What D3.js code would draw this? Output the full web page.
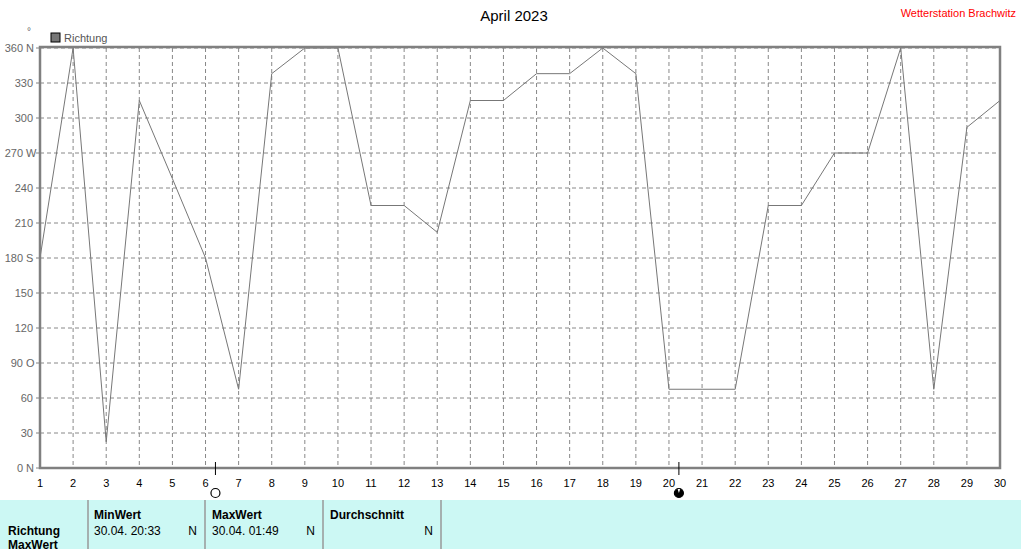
<!DOCTYPE html>
<html><head><meta charset="utf-8">
<script src="https://cdn.jsdelivr.net/npm/d3@7"></script>
<style>body{margin:0;background:#fff}svg{display:block;font-family:"Liberation Sans",Arial,sans-serif}</style>
</head><body><svg id="c" width="1021" height="549"></svg>
<script>
const days = d3.range(1, 31);
const richtung = [180,360,22.5,315,248,180,67.5,338,360,360,225,225,202,315,315,338,338,360,338,67.5,67.5,67.5,225,225,270,270,360,67.5,292,315];
const yTicks = d3.range(0, 361, 30);
const compass = {0:"N",90:"O",180:"S",270:"W",360:"N"};
const moons = [{day:6.3, full:true},{day:20.3, full:false}];

const svg = d3.select("#c");
const x = d3.scaleLinear().domain([1,30]).range([40,1000]);
const y = d3.scaleLinear().domain([0,360]).range([468,48]);

svg.append("text").attr("x",514).attr("y",21).attr("text-anchor","middle").attr("font-size",15).text("April 2023");
svg.append("text").attr("x",1016).attr("y",17).attr("text-anchor","end").attr("font-size",11).attr("fill","#f00").text("Wetterstation Brachwitz");
svg.append("text").attr("x",27).attr("y",35).attr("font-size",10).attr("fill","#666").text("°");
svg.append("rect").attr("x",51).attr("y",33).attr("width",9).attr("height",9).attr("fill","#777").attr("stroke","#000");
svg.append("text").attr("x",64).attr("y",42).attr("font-size",11).attr("fill","#555").text("Richtung");

const g = svg.append("g");
g.selectAll(".vg").data(days.slice(1)).join("line")
  .attr("x1",d=>x(d)).attr("x2",d=>x(d)).attr("y1",48).attr("y2",468)
  .attr("stroke","#888").attr("stroke-dasharray","4,3");
g.selectAll(".hg").data(yTicks.slice(1)).join("line")
  .attr("x1",40).attr("x2",1000).attr("y1",d=>y(d)).attr("y2",d=>y(d))
  .attr("stroke","#888").attr("stroke-dasharray","4,3");

g.append("path").datum(richtung)
  .attr("d", d3.line().x((d,i)=>x(days[i])).y(d=>y(d)))
  .attr("fill","none").attr("stroke","#777").attr("stroke-width",1);

svg.append("rect").attr("x",40).attr("y",47).attr("width",960).attr("height",421)
  .attr("fill","none").attr("stroke","#808080").attr("stroke-width",2.5);

yTicks.forEach(v=>{
  svg.append("line").attr("x1",36).attr("x2",40).attr("y1",y(v)).attr("y2",y(v)).attr("stroke","#808080");
  svg.append("text").attr("x",compass[v]!==undefined?23:33).attr("y",y(v)+4).attr("text-anchor","end")
    .attr("font-size",11).attr("fill","#666").text(v);
  if(compass[v]!==undefined) svg.append("text").attr("x",26).attr("y",y(v)+4).attr("font-size",11).attr("fill","#666").text(compass[v]);
});
days.forEach(d=>{
  svg.append("text").attr("x",x(d)).attr("y",487).attr("text-anchor","middle").attr("font-size",11).text(d);
});
moons.forEach(m=>{
  svg.append("line").attr("x1",x(m.day)).attr("x2",x(m.day)).attr("y1",462).attr("y2",475).attr("stroke","#000");
  svg.append("circle").attr("cx",x(m.day)).attr("cy",493).attr("r",4.5).attr("fill","#fff").attr("stroke","#000").attr("stroke-width",1.2);
  if(!m.full) svg.append("path").attr("d",d3.arc()({innerRadius:0,outerRadius:4.5,startAngle:Math.PI*0.1,endAngle:Math.PI*1.9}))
    .attr("transform",`translate(${x(m.day)},493)`).attr("fill","#000");
});

// table
svg.append("rect").attr("x",0).attr("y",500).attr("width",1021).attr("height",49).attr("fill","#ccf8f4");
[88,205,323,441].forEach(px=>svg.append("line").attr("x1",px).attr("x2",px).attr("y1",500).attr("y2",549).attr("stroke","#999").attr("stroke-width",1.5));
const tb = (t,px,py,bold,anchor)=>svg.append("text").attr("x",px).attr("y",py).attr("font-size",12)
  .attr("font-weight",bold?"bold":"normal").attr("text-anchor",anchor||"start").text(t);
tb("Richtung",8,535,true); tb("MaxWert",8,549,true);
tb("MinWert",94,519,true); tb("30.04.  20:33",94,535,false); tb("N",197,535,false,"end");
tb("MaxWert",212,519,true); tb("30.04.  01:49",212,535,false); tb("N",315,535,false,"end");
tb("Durchschnitt",330,519,true); tb("N",433,535,false,"end");
</script></body></html>
